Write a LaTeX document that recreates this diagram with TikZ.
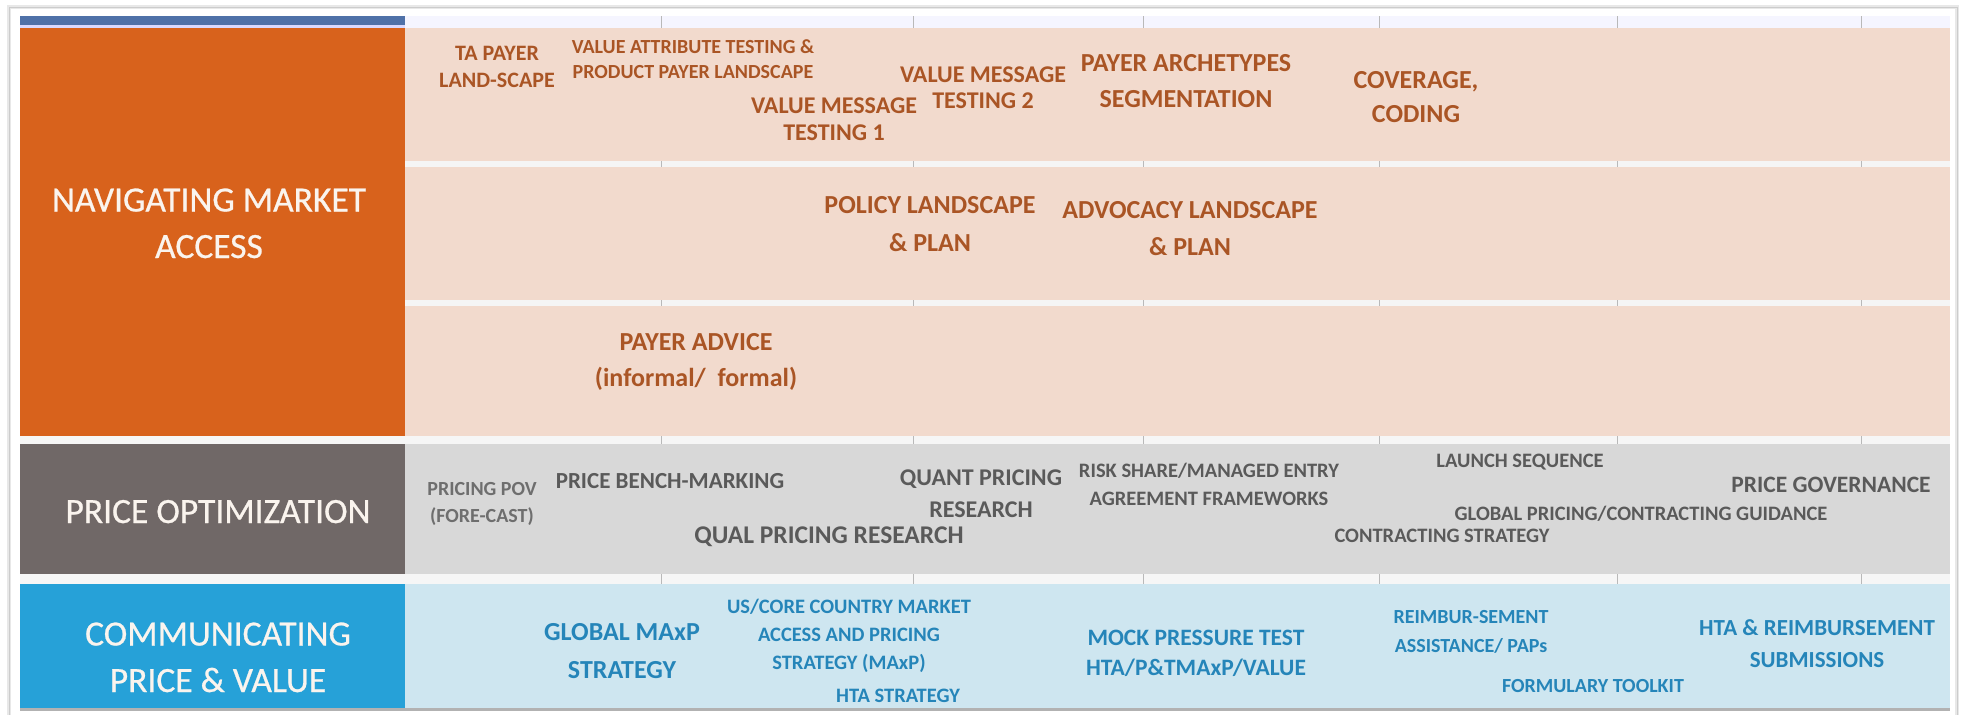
\documentclass[tikz,border=0pt]{standalone}
\usepackage{fontspec}
\setmainfont{Carlito}
\newfontfamily\headfont[FakeBold=0.7]{Carlito}
\newcommand\fsz[2]{\fontsize{#1}{#2}\selectfont}
\definecolor{orangeL}{RGB}{216,98,28}
\definecolor{pinkBg}{RGB}{242,218,205}
\definecolor{greyL}{RGB}{112,104,103}
\definecolor{greyBg}{RGB}{216,216,216}
\definecolor{blueL}{RGB}{38,161,216}
\definecolor{blueBg}{RGB}{206,230,240}
\definecolor{pinkText}{RGB}{170,85,37}
\definecolor{greyText}{RGB}{90,90,90}
\definecolor{greyTextL}{RGB}{110,110,110}
\definecolor{blueText}{RGB}{37,133,185}
\definecolor{topBar}{RGB}{79,113,168}
\definecolor{headText}{RGB}{250,244,238}
\begin{document}
% every text node is placed by the baseline of its last line
\begin{tikzpicture}[x=1pt,y=-1pt,
  cell/.style={anchor=base, align=center, inner sep=0pt},
  pinktxt/.style={cell, text=pinkText},
  greytxt/.style={cell, text=greyText},
  bluetxt/.style={cell, text=blueText},
  heading/.style={cell, text=headText, font=\headfont\fsz{35.5}{46.5}},
  tick/.style={draw=gray!55, line width=1pt}]
\useasboundingbox (0,0) rectangle (1963,715);
% panel with soft border
\fill[white] (0,0) rectangle (1963,715);
\draw[gray!18, line width=4pt] (9,7) rectangle (1957,718);
\draw[gray!40, line width=1pt] (9,7) rectangle (1957,718);
% header strip
\fill[blue!4] (405,16) rectangle (1950,28);
\fill[topBar] (20,16) rectangle (405,25);
\fill[blue!15] (20,25) rectangle (405,28);
% row label blocks
\fill[orangeL] (20,28) rectangle (405,436);
\fill[greyL] (20,444) rectangle (405,574);
\fill[blueL] (20,584) rectangle (405,708);
% cell bands
\fill[pinkBg] (405,28) rectangle (1950,161);
\fill[pinkBg] (405,167) rectangle (1950,300);
\fill[pinkBg] (405,306) rectangle (1950,436);
\fill[greyBg] (405,444) rectangle (1950,574);
\fill[blueBg] (405,584) rectangle (1950,708);
\fill[gray!8] (405,161) rectangle (1950,167);
\fill[gray!8] (405,300) rectangle (1950,306);
\fill[gray!7] (20,436) rectangle (1950,444);
\fill[gray!7] (20,574) rectangle (1950,584);
% bottom shadow of the table
\fill[gray!60] (20,708) rectangle (1950,711);
% column marks in the gaps
\foreach \cx in {661,913,1143,1379,1617,1861}{
  \draw[tick] (\cx,16) -- (\cx,28);
  \draw[tick] (\cx,161) -- (\cx,167);
  \draw[tick] (\cx,300) -- (\cx,306);
  \draw[tick] (\cx,436) -- (\cx,444);
  \draw[tick] (\cx,574) -- (\cx,584);
}
% row headings
\node[heading] (hNav) at (209,258) {NAVIGATING MARKET\\ACCESS};
\node[heading] (hPrice) at (218,523) {PRICE OPTIMIZATION};
\node[heading] (hComm) at (218,692) {COMMUNICATING\\PRICE \& VALUE};
% navigating market access
\node[pinktxt, font=\bfseries\fsz{22}{27}] (taPayer) at (497,87) {TA PAYER\\LAND-SCAPE};
\node[pinktxt, font=\bfseries\fsz{20}{25}] (valAttr) at (693,78) {VALUE ATTRIBUTE TESTING \&\\PRODUCT PAYER LANDSCAPE};
\node[pinktxt, font=\bfseries\fsz{24}{27}] (vmt1) at (834,140) {VALUE MESSAGE\\TESTING 1};
\node[pinktxt, font=\bfseries\fsz{24}{26}] (vmt2) at (983,108) {VALUE MESSAGE\\TESTING 2};
\node[pinktxt, font=\bfseries\fsz{26}{35.5}] (archetypes) at (1186,107) {PAYER ARCHETYPES\\SEGMENTATION};
\node[pinktxt, font=\bfseries\fsz{26}{34}] (coverage) at (1416,122) {COVERAGE,\\CODING};
\node[pinktxt, font=\bfseries\fsz{26}{38}] (policy) at (930,251) {POLICY LANDSCAPE\\\& PLAN};
\node[pinktxt, font=\bfseries\fsz{26}{37}] (advocacy) at (1190,255) {ADVOCACY LANDSCAPE\\\& PLAN};
\node[pinktxt, font=\bfseries\fsz{26}{36}] (advice) at (696,386) {PAYER ADVICE\\(informal/\ \ formal)};
% price optimization
\node[cell, text=greyTextL, font=\bfseries\fsz{20}{27}] (pov) at (482,522) {PRICING POV\\(FORE-CAST)};
\node[greytxt, font=\bfseries\fsz{23}{28}] (bench) at (670,488) {PRICE BENCH-MARKING};
\node[greytxt, font=\bfseries\fsz{24}{32}] (quant) at (981,517) {QUANT PRICING\\RESEARCH};
\node[greytxt, font=\bfseries\fsz{20.5}{28}] (riskShare) at (1209,505) {RISK SHARE/MANAGED ENTRY\\AGREEMENT FRAMEWORKS};
\node[greytxt, font=\bfseries\fsz{25.5}{30}] (qual) at (829,543) {QUAL PRICING RESEARCH};
\node[greytxt, font=\bfseries\fsz{20.5}{28}] (launch) at (1520,467) {LAUNCH SEQUENCE};
\node[greytxt, font=\bfseries\fsz{23.5}{28}] (governance) at (1831,492) {PRICE GOVERNANCE};
\node[greytxt, font=\bfseries\fsz{20.5}{28}] (guidance) at (1641,520) {GLOBAL PRICING/CONTRACTING GUIDANCE};
\node[greytxt, font=\bfseries\fsz{20.5}{28}] (contracting) at (1442,542) {CONTRACTING STRATEGY};
% communicating price and value
\node[bluetxt, font=\bfseries\fsz{26}{38}] (globalMaxp) at (622,678) {GLOBAL MAxP\\STRATEGY};
\node[bluetxt, font=\bfseries\fsz{20.5}{28}] (usCore) at (849,669) {US/CORE COUNTRY MARKET\\ACCESS AND PRICING\\STRATEGY (MAxP)};
\node[bluetxt, font=\bfseries\fsz{20.5}{28}] (htaStrat) at (898,702) {HTA STRATEGY};
\node[bluetxt, font=\bfseries\fsz{23.5}{30}] (mock) at (1196,675) {MOCK PRESSURE TEST\\HTA/P\&TMAxP/VALUE};
\node[bluetxt, font=\bfseries\fsz{20}{29}] (reimb) at (1471,652) {REIMBUR-SEMENT\\ASSISTANCE/ PAPs};
\node[bluetxt, font=\bfseries\fsz{20}{28}] (formulary) at (1593,692) {FORMULARY TOOLKIT};
\node[bluetxt, font=\bfseries\fsz{23}{32}] (submissions) at (1817,667) {HTA \& REIMBURSEMENT\\SUBMISSIONS};
\end{tikzpicture}
\end{document}
